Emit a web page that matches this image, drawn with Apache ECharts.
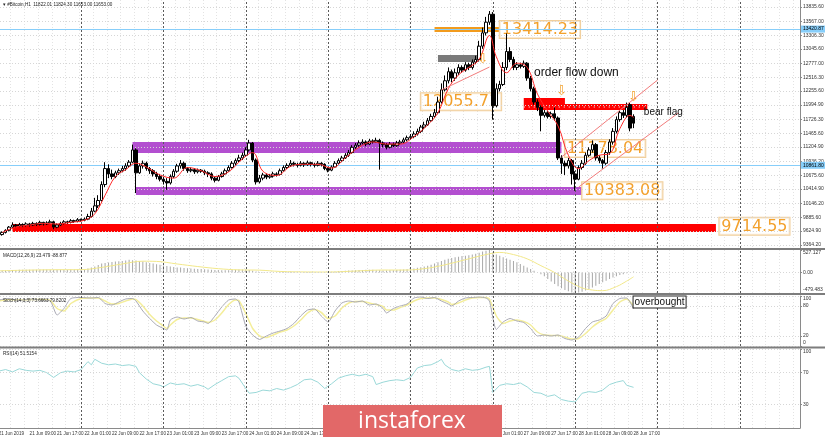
<!DOCTYPE html>
<html><head><meta charset="utf-8">
<script src="https://cdn.jsdelivr.net/npm/echarts@6/dist/echarts.min.js"></script>
<style>html,body{margin:0;padding:0;background:#fff}#c{width:825px;height:437px}</style>
</head><body><div id="c"></div>
<script>
// ---------- categories (hourly bars, H1) ----------
const categories = [];
for (let i = 0; i < 234; i++) {
  const d = 21 + Math.floor(i / 24), h = i % 24;
  categories.push(i === 0 ? '21 Jun 2019' : d + ' Jun ' + String(h).padStart(2, '0') + ':00');
}
const lastBar = 185;

// ---------- price candles [open, close, low, high] ----------
const candlesOCLH = [
[9520,9560,9500,9590],[9560,9600,9540,9620],[9600,9640,9580,9660],[9640,9700,9620,9720],[9700,9740,9680,9790],
[9740,9720,9690,9760],[9720,9750,9700,9780],[9750,9730,9700,9770],[9730,9760,9710,9790],[9760,9740,9710,9780],
[9740,9770,9720,9800],[9770,9750,9720,9790],[9750,9790,9730,9820],[9790,9760,9730,9800],[9760,9780,9740,9810],
[9780,9800,9760,9840],[9800,9700,9660,9820],[9700,9740,9680,9770],[9740,9770,9720,9800],[9770,9800,9750,9830],
[9800,9790,9760,9820],[9790,9820,9770,9850],[9820,9810,9780,9840],[9810,9840,9790,9870],[9840,9830,9800,9860],
[9830,9850,9810,9880],[9850,9900,9830,9950],[9900,10000,9880,10060],[10000,10100,9980,10250],[10100,10200,10060,10300],
[10200,10500,10180,10560],[10500,10800,10450,10920],[10800,10700,10620,10880],[10700,10650,10600,10780],[10650,10720,10620,10760],
[10720,10760,10680,10800],[10760,10800,10730,10850],[10800,10850,10760,10900],[10850,10920,10820,10960],[10920,11150,10900,11250],
[11150,10720,10340,11180],[10720,10850,10700,10900],[10850,10900,10800,10950],[10900,10800,10760,10930],[10800,10760,10700,10830],
[10760,10700,10650,10790],[10700,10650,10600,10740],[10650,10600,10560,10700],[10600,10560,10500,10640],[10560,10530,10400,10620],
[10530,10650,10500,10690],[10650,10750,10620,10790],[10750,10850,10720,10890],[10850,10900,10800,10960],[10900,10800,10760,10930],
[10800,10760,10720,10830],[10760,10780,10730,10820],[10780,10740,10700,10810],[10740,10770,10710,10800],[10770,10750,10720,10790],
[10750,10720,10680,10780],[10720,10700,10640,10750],[10700,10620,10580,10730],[10620,10580,10540,10650],[10580,10650,10560,10680],
[10650,10700,10630,10740],[10700,10760,10680,10800],[10760,10820,10740,10860],[10820,10900,10800,10940],[10900,10950,10860,10990],
[10950,11000,10920,11060],[11000,11050,10960,11100],[11050,11150,11020,11200],[11150,11280,11120,11340],[11280,10960,10920,11300],
[10960,10550,10500,10990],[10550,10620,10520,10680],[10620,10680,10580,10720],[10680,10640,10600,10710],[10640,10660,10610,10700],
[10660,10700,10630,10740],[10700,10690,10650,10730],[10690,10760,10670,10800],[10760,10820,10740,10860],[10820,10860,10790,10900],
[10860,10900,10830,10960],[10900,10880,10840,10930],[10880,10860,10820,10910],[10860,10900,10840,10940],[10900,10870,10830,10920],
[10870,10910,10850,10950],[10910,10880,10840,10930],[10880,10860,10820,10910],[10860,10900,10840,10940],[10900,10880,10840,10920],
[10880,10800,10770,10900],[10800,10770,10730,10830],[10770,10830,10750,10860],[10830,10900,10810,10940],[10900,10950,10880,10990],
[10950,11000,10920,11040],[11000,11050,10980,11090],[11050,11100,11020,11150],[11100,11200,11080,11240],[11200,11240,11170,11280],
[11240,11280,11210,11330],[11280,11300,11250,11350],[11300,11260,11220,11330],[11260,11320,11240,11360],[11320,11300,11270,11350],
[11300,11330,11280,11380],[11330,11280,10780,11360],[11280,11250,11200,11310],[11250,11200,11160,11280],[11200,11260,11180,11300],
[11260,11230,11200,11290],[11230,11280,11210,11320],[11280,11300,11250,11340],[11300,11340,11270,11380],[11340,11380,11310,11420],
[11380,11400,11350,11450],[11400,11450,11370,11500],[11450,11500,11420,11550],[11500,11580,11470,11620],[11580,11620,11540,11680],
[11620,11700,11600,11750],[11700,11780,11680,11830],[11780,11850,11750,11920],[11850,12050,11820,12150],[12050,12280,12020,12400],
[12280,12450,12250,12550],[12450,12620,12400,12700],[12620,12500,12420,12660],[12500,12600,12450,12680],[12600,12700,12560,12760],
[12700,12650,12600,12740],[12650,12750,12620,12800],[12750,12700,12650,12790],[12700,12800,12660,12850],[12800,12850,12760,12920],
[12850,13100,12820,13200],[13100,13350,13050,13450],[13350,13550,13300,13650],[13550,13700,13500,13760],[13700,11980,11720,13740],
[11980,12300,11950,12400],[12300,12380,12250,12450],[12380,12700,12350,12800],[12700,13000,12650,13340],[13000,12850,12800,13080],
[12850,12700,12650,12900],[12700,12750,12650,12800],[12750,12720,12680,12790],[12720,12780,12690,12830],[12780,12500,12450,12800],
[12500,12300,12250,12540],[12300,12050,12000,12340],[12050,11950,11880,12100],[11950,11800,11500,11990],[11800,11850,11760,11900],
[11850,11780,11740,11880],[11780,11830,11740,11870],[11830,11750,11700,11950],[11750,11000,10960,11780],[11000,10900,10700,11050],
[10900,10850,10680,10950],[10850,10950,10800,11000],[10950,10700,10500,10980],[10700,10600,10383,10750],[10600,10820,10580,10860],
[10820,10900,10780,10960],[10900,11050,10870,11100],[11050,11150,11020,11200],[11150,11250,11100,11330],[11250,11000,10950,11280],
[11000,10950,10900,11050],[10950,10900,10800,10980],[10900,11100,10870,11150],[11100,11300,11060,11350],[11300,11500,11250,11560],
[11500,11720,11460,11780],[11720,11850,11680,11900],[11850,11800,11750,11900],[11800,11950,11760,12040],[12000,11560,11500,12040],
[11780,11653,11560,11820]
];

// moving average (red thin line) [barIndex, value]
const maLine = [[1,9600],[5,9700],[9,9740],[13,9770],[17,9760],[21,9790],[25,9830],[28,9950],[31,10300],[34,10650],[37,10780],[40,10900],[43,10830],[47,10680],[51,10620],[55,10820],[59,10760],[63,10650],[67,10740],[71,10980],[74,11100],[77,10750],[81,10670],[85,10840],[89,10880],[93,10880],[97,10810],[101,11000],[105,11200],[109,11300],[113,11260],[117,11260],[121,11400],[125,11620],[128,11850],[131,12300],[134,12560],[137,12700],[140,12850],[143,13300],[145,12900],[148,12600],[151,12780],[154,12700],[157,12200],[160,11880],[163,11600],[166,11050],[169,10800],[172,10950],[175,11050],[178,11080],[181,11550],[184,11800],[185,11760]];

// drawn objects
const zones = [
  {kind:'red',    x0:4,   x1:209, lo:9608,  hi:9758},
  {kind:'purple', x0:39,  x1:164, lo:11092, hi:11299},
  {kind:'purple', x0:40,  x1:170, lo:10303, hi:10453},
  {kind:'orange', x0:127, x1:146, lo:13366, hi:13460},
  {kind:'gray',   x0:128, x1:140, lo:12802, hi:12934},
  {kind:'red',    x0:153, x1:165, lo:12013, hi:12126},
  {kind:'flow',   x0:153, x1:189, lo:11900, hi:12013}
];
const levelTags = [
  {x:210, y:9714.55},{x:146, y:13414.23},{x:123, y:12055.71},{x:165, y:11178.04},{x:170, y:10383.08}
];
const notes = [{x:156, y:12595, text:'order flow down', size:12},{x:188, y:11862, text:'bear flag', size:10}];
const arrows = [[164,12248],[185,12126],[141,12840]];
const channelLower = [[169,10453],[198,11844]];
const channelUpper = [[164,11017],[192,12464]];
const trendLine = [[129,12276],[143,12708]];
const hLevels = [13420.87, 10861.80];
const lastPrice = 11653.00;

// ---------- MACD ----------
const macdHist = [40,45,50,55,60,60,62,64,65,66,66,67,68,68,68,66,64,64,65,66,67,68,70,70,72,
80,95,115,140,175,210,225,235,245,255,262,270,280,300,290,280,
270,255,240,225,210,195,180,165,150,140,130,120,115,105,100,95,90,85,80,75,
70,65,60,58,56,55,55,58,62,68,72,78,
60,40,25,15,10,8,6,8,10,12,14,15,16,17,16,15,14,12,10,8,8,10,12,
15,20,25,30,35,40,45,50,55,58,60,62,64,62,55,52,50,50,52,55,58,62,68,75,
85,95,110,125,140,160,180,210,240,270,300,320,340,355,370,385,395,405,420,440,465,490,510,527,
470,420,390,360,330,300,270,240,200,160,120,80,40,0,
-40,-90,-150,-210,-270,-320,-370,-410,-440,-465,-479,-470,-450,
-420,-385,-350,-310,-270,-230,-190,-150,-115,-85,-60,-40,-20,5,23];
const macdSignal = [[0,40],[8,55],[16,65],[24,67],[30,120],[36,200],[42,265],[46,260],[52,200],[58,140],[64,90],[70,62],[76,55],[82,25],[90,13],[96,11],[104,35],[112,58],[118,58],[124,90],[130,180],[136,300],[142,420],[146,470],[150,420],[154,320],[158,160],[162,0],[166,-200],[170,-360],[173,-410],[176,-425],[180,-330],[183,-200],[185,-100]];

// ---------- Stochastic ----------
const stochMain = [[0,92],[3,95],[6,91],[9,94],[12,92],[15,90],[17,62],[19,75],[21,95],[24,97],[27,96],[29,97],[31,85],[33,82],[35,88],[37,94],[39,95],[40,90],[42,70],[44,55],[46,42],[48,35],[49,32],[50,52],[52,58],[54,54],[56,57],[58,50],[60,48],[61,45],[63,60],[65,78],[67,92],[69,94],[70,88],[72,40],[74,22],[76,13],[78,20],[80,26],[82,30],[84,35],[86,45],[88,60],[90,72],[92,74],[94,60],[96,48],[98,70],[100,86],[102,90],[104,88],[106,90],[108,82],[110,84],[112,75],[113,66],[115,75],[117,80],[119,84],[121,96],[123,98],[125,95],[127,97],[129,90],[131,84],[132,80],[134,90],[136,96],[138,97],[140,98],[142,96],[143,90],[145,33],[147,48],[149,55],[151,50],[153,47],[155,35],[157,20],[159,22],[161,20],[163,22],[165,15],[167,12],[169,18],[171,35],[173,48],[175,52],[177,60],[179,85],[181,95],[183,96],[185,74]];
const stochSignal = [[0,90],[3,93],[6,92],[9,93],[12,93],[15,91],[17,75],[19,70],[21,85],[24,95],[27,96],[29,96],[31,90],[33,84],[35,85],[37,90],[39,94],[40,93],[42,80],[44,63],[46,50],[48,40],[49,35],[50,42],[52,53],[54,56],[56,56],[58,53],[60,49],[61,47],[63,52],[65,66],[67,83],[69,92],[70,91],[72,65],[74,35],[76,20],[78,17],[80,22],[82,28],[84,32],[86,40],[88,52],[90,66],[92,73],[94,67],[96,55],[98,60],[100,76],[102,86],[104,89],[106,89],[108,86],[110,83],[112,79],[113,72],[115,72],[117,77],[119,82],[121,90],[123,95],[125,96],[127,96],[129,93],[131,88],[132,83],[134,86],[136,92],[138,96],[140,97],[142,97],[143,94],[145,60],[147,45],[149,50],[151,52],[153,49],[155,42],[157,28],[159,22],[161,21],[163,21],[165,18],[167,14],[169,15],[171,25],[173,38],[175,48],[177,55],[179,72],[181,88],[183,94],[185,80]];
const stochNote = {x:185, y:88, text:'overbought'};

// ---------- RSI ----------
const rsiLine = [[0,72],[2,74],[4,71],[6,75],[8,73],[10,72],[12,73],[14,70],[16,64],[18,70],[20,72],[22,71],[24,74],[26,84],[27,80],[28,87],[30,82],[32,80],[34,81],[36,79],[38,80],[40,78],[41,70],[43,62],[45,56],[47,54],[48,52],[50,57],[52,55],[54,56],[56,53],[58,55],[60,52],[61,49],[63,55],[65,60],[67,65],[69,66],[70,63],[72,50],[73,44],[75,45],[77,48],[79,47],[81,50],[83,48],[85,51],[87,55],[89,61],[91,62],[93,58],[95,50],[97,56],[99,63],[101,66],[103,68],[105,66],[107,68],[109,65],[110,55],[112,58],[114,60],[116,61],[118,60],[120,64],[122,76],[124,79],[126,80],[128,84],[129,87],[130,80],[132,74],[134,72],[136,75],[138,73],[140,74],[142,77],[143,78],[144,45],[146,54],[148,56],[150,55],[152,57],[154,52],[156,45],[158,44],[160,40],[162,42],[164,36],[166,34],[168,33],[170,44],[172,46],[174,45],[176,48],[178,55],[180,58],[182,60],[183,54],[185,51.5]];

// ---------- axis ticks ----------
const mainTicks = [9364.20,9624.90,9885.60,10146.20,10414.90,10675.60,10936.20,11204.90,11465.60,11726.30,11994.90,12255.60,12516.30,12777.00,13045.60,13306.30,13567.00,13835.60];
const macdTicks = [527.127, 0, -479.483];
const macdTickText = ['527.127', '0.00', '-479.483'];
const stochTicks = [100, 80, 20, 0];
const rsiTicks = [100, 70, 30];

// ---------- styles ----------
const FONT = 'Liberation Sans';
const AX = 5;
const zoneColors = {red:'#ff0000', purple:'#b34fd0', orange:'#f29b1d', gray:'#7a7a7a', flow:'#ff0000'};
const tagColor = '#f3a12c';
const daySeps = categories.map((c, i) => (i > 0 && c.endsWith('00:00') ? i : -1)).filter(i => i > 0);

const chart = echarts.init(document.getElementById('c'), null, {renderer:'canvas'});

function gridDef(top, height) {
  return {left:-3, right:25, top:top, height:height, outerBoundsMode:'none', containLabel:false};
}
const panels = [
  {min:9307.8, max:13967.1, ticks:mainTicks, fmt:v => v.toFixed(2)},
  {min:-479.483, max:527.127, ticks:macdTicks, fmt:v => macdTickText[macdTicks.indexOf(v)]},
  {min:0, max:100, ticks:stochTicks, fmt:v => String(v)},
  {min:0, max:100, ticks:rsiTicks, fmt:v => String(v)}
];

const xAxes = [0,1,2,3].map(k => ({
  type:'category', gridIndex:k, data:categories, boundaryGap:true,
  axisLine:{show:k===3, lineStyle:{color:'#8a8a8a'}},
  axisTick:{show:false},
  axisLabel: k===3 ? {
    interval: idx => idx === 0 || (idx >= 9 && idx <= lastBar && idx % 8 === 1),
    fontSize:4.6, color:'#333', align:'left', margin:3, fontFamily:FONT,
    hideOverlap:false, showMinLabel:true
  } : {show:false},
  splitLine:{show:true, interval:3, lineStyle:{color:'#e3e3e3', width:1, type:[1,2]}}
}));

const yAxes = panels.map((p, k) => ({
  type:'value', gridIndex:k, position:'right', min:p.min, max:p.max,
  axisLine:{show:true, lineStyle:{color:'#8a8a8a'}},
  axisTick:{show:true, length:2, customValues:p.ticks, lineStyle:{color:'#8a8a8a'}},
  axisLabel:{
    customValues:p.ticks, fontSize:AX, color:'#333', margin:3, fontFamily:FONT, hideOverlap:false,
    formatter: v => {
      const t = p.fmt(v);
      if (k > 0 && v === p.max) return '{t|' + t + '}';
      if (k > 0 && v === p.min) return '{b|' + t + '}';
      return t;
    },
    rich:{t:{fontSize:AX, padding:[6,0,0,0], fontFamily:FONT, color:'#333'}, b:{fontSize:AX, padding:[0,0,6,0], fontFamily:FONT, color:'#333'}}
  },
  splitLine:{show:false}
}));

function gridLineSeries(k) {
  return {
    type:'line', xAxisIndex:k, yAxisIndex:k, data:[], silent:true, z:1, symbol:'none',
    markLine:{
      silent:true, symbol:['none','none'], animation:false, label:{show:false},
      data: panels[k].ticks.map(v => ({yAxis:v, lineStyle:{color:'#d6d6d6', width:1, type:[1,2]}}))
        .concat(daySeps.map(i => ({xAxis:i, lineStyle:{color:'#5a5a5a', width:1, type:[2,2]}})))
    }
  };
}

const series = [
  gridLineSeries(0), gridLineSeries(1), gridLineSeries(2), gridLineSeries(3),
  {
    type:'custom', name:'zones', xAxisIndex:0, yAxisIndex:0, z:2, silent:true,
    data: zones.map(z => [z.x0, z.x1, z.lo, z.hi]),
    renderItem: (params, api) => {
      const z = zones[params.dataIndex];
      const p0 = api.coord([api.value(0), api.value(3)]);
      const p1 = api.coord([api.value(1), api.value(2)]);
      const children = [{type:'rect', shape:{x:p0[0], y:p0[1], width:p1[0]-p0[0], height:p1[1]-p0[1]}, style:{fill:zoneColors[z.kind]}}];
      if (z.kind === 'flow') {
        const ym = (p0[1] + p1[1]) / 2;
        children.push({type:'line', shape:{x1:p0[0], y1:ym, x2:p1[0], y2:ym}, style:{stroke:'#ffffff', lineWidth:1, lineDash:[1,4]}});
      }
      return {type:'group', children};
    }
  },
  {
    type:'custom', name:'levelTags', xAxisIndex:0, yAxisIndex:0, z:4, silent:true,
    data: levelTags.map(t => [t.x, t.y]),
    renderItem: (params, api) => {
      const pt = api.coord([api.value(0), api.value(1)]);
      return {type:'text', x:pt[0], y:pt[1], style:{text:api.value(1).toFixed(2), fill:tagColor, font:'16px "DejaVu Sans"', align:'left', verticalAlign:'middle', backgroundColor:'rgba(255,255,255,0.55)', borderColor:'#f1cf9c', borderWidth:1, padding:[1,2,0,2]}};
    }
  },
  {
    type:'candlestick', name:'#Bitcoin,H1', xAxisIndex:0, yAxisIndex:0, z:5, barWidth:3,
    data:candlesOCLH,
    itemStyle:{color:'#ffffff', color0:'#000000', borderColor:'#000000', borderColor0:'#000000', borderWidth:1},
    markLine:{
      silent:true, symbol:['none','none'], animation:false,
      data: hLevels.map(v => ({yAxis:v, lineStyle:{color:'#87cefa', width:1, type:'solid'},
          label:{show:true, position:'end', formatter:p => p.value.toFixed(2), backgroundColor:'#87cefa', color:'#000', fontSize:AX, fontFamily:FONT, padding:[1,2], distance:1}}))
        .concat([{yAxis:lastPrice, lineStyle:{opacity:0},
          label:{show:true, position:'end', formatter:p => p.value.toFixed(2), backgroundColor:'#000', color:'#fff', fontSize:AX, fontFamily:FONT, padding:[1,2], distance:1}}])
    }
  },
  {type:'line', name:'MA', xAxisIndex:0, yAxisIndex:0, z:6, data:maLine, symbol:'none', smooth:0.4, lineStyle:{color:'#ff2a2a', width:1}, silent:true},
  {type:'line', name:'chLow', xAxisIndex:0, yAxisIndex:0, z:6, data:channelLower, symbol:'none', lineStyle:{color:'#f27c7c', width:1}, silent:true},
  {type:'line', name:'chUp', xAxisIndex:0, yAxisIndex:0, z:6, data:channelUpper, symbol:'none', lineStyle:{color:'#f27c7c', width:1}, silent:true},
  {type:'line', name:'trend', xAxisIndex:0, yAxisIndex:0, z:6, data:trendLine, symbol:'none', lineStyle:{color:'#f27c7c', width:1}, silent:true},
  {
    type:'custom', name:'notes', xAxisIndex:0, yAxisIndex:0, z:7, silent:true,
    data: notes.map(n => [n.x, n.y]),
    renderItem: (params, api) => {
      const pt = api.coord([api.value(0), api.value(1)]);
      const n = notes[params.dataIndex];
      return {type:'text', x:pt[0], y:pt[1], style:{text:n.text, fill:'#111', font:n.size + 'px "Liberation Sans"', align:'left', verticalAlign:'middle'}};
    }
  },
  {
    type:'custom', name:'arrows', xAxisIndex:0, yAxisIndex:0, z:7, silent:true,
    data: arrows,
    renderItem: (params, api) => {
      const pt = api.coord([api.value(0), api.value(1)]);
      return {type:'text', x:pt[0], y:pt[1], style:{text:'\u21E9', fill:'#f3a12c', font:'13px "DejaVu Sans"', align:'center', verticalAlign:'middle'}};
    }
  },
  {type:'bar', name:'MACD', xAxisIndex:1, yAxisIndex:1, data:macdHist, barWidth:1, itemStyle:{color:'#a8a8a8'}, silent:true, z:3},
  {type:'line', name:'Signal', xAxisIndex:1, yAxisIndex:1, data:macdSignal, symbol:'none', smooth:0.4, lineStyle:{color:'#f2e88a', width:1}, silent:true, z:4},
  {type:'line', name:'StochSig', xAxisIndex:2, yAxisIndex:2, data:stochSignal, symbol:'none', smooth:0.2, lineStyle:{color:'#f4ee9a', width:1.5}, silent:true, z:3},
  {type:'line', name:'StochMain', xAxisIndex:2, yAxisIndex:2, data:stochMain, symbol:'none', smooth:0.2, lineStyle:{color:'#a9a9b4', width:1}, silent:true, z:4},
  {
    type:'custom', name:'stochNote', xAxisIndex:2, yAxisIndex:2, z:7, silent:true,
    data:[[stochNote.x, stochNote.y]],
    renderItem: (params, api) => {
      const pt = api.coord([api.value(0), api.value(1)]);
      return {type:'text', x:pt[0], y:pt[1], style:{text:stochNote.text, fill:'#111', font:'10px "Liberation Sans"', align:'left', verticalAlign:'middle', backgroundColor:'#fff', borderColor:'#222', borderWidth:1, padding:[1,1,0,1]}};
    }
  },
  {type:'line', name:'RSI', xAxisIndex:3, yAxisIndex:3, data:rsiLine, symbol:'none', lineStyle:{color:'#9ad8d8', width:1}, silent:true, z:3}
];

const sepColor = '#7d7d7d';
const graphic = [
  {type:'rect', shape:{x:0, y:248, width:825, height:2}, style:{fill:sepColor}, z:100},
  {type:'rect', shape:{x:0, y:293, width:825, height:2}, style:{fill:sepColor}, z:100},
  {type:'rect', shape:{x:0, y:346.5, width:825, height:2}, style:{fill:sepColor}, z:100},
  {type:'text', x:3, y:2, style:{text:'\u25BE #Bitcoin,H1  11822.01 11824.30 11653.00 11653.00', fill:'#222', font:'4.6px "Liberation Sans"'}, z:100},
  {type:'text', x:3, y:253, style:{text:'MACD(12,26,9) 23.479 -88.877', fill:'#222', font:'4.6px "Liberation Sans"'}, z:100},
  {type:'text', x:3, y:298, style:{text:'Stoch(14,3,3) 73.6663 79.8202', fill:'#222', font:'4.6px "Liberation Sans"'}, z:100},
  {type:'text', x:3, y:351, style:{text:'RSI(14) 51.5154', fill:'#222', font:'4.6px "Liberation Sans"'}, z:100},
  {type:'rect', shape:{x:323, y:405, width:179, height:32}, style:{fill:'#e26868'}, z:110},
  {type:'text', x:412, y:421, style:{text:'instaforex', fill:'#ffffff', font:'23px "Open Sans"', align:'center', verticalAlign:'middle'}, z:111}
];

chart.setOption({
  animation:false, backgroundColor:'#ffffff',
  grid:[gridDef(0,248), gridDef(250,43), gridDef(296,50), gridDef(349,79)],
  xAxis:xAxes, yAxis:yAxes, series:series, graphic:graphic
});
</script></body></html>
